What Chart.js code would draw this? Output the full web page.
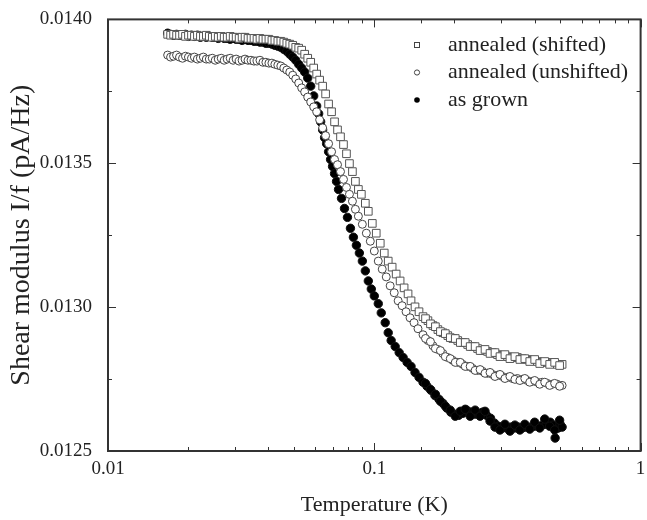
<!DOCTYPE html>
<html>
<head>
<meta charset="utf-8">
<script src="https://cdn.jsdelivr.net/npm/chart.js@4.4.0/dist/chart.umd.min.js"></script>
<style>
  html, body { margin: 0; padding: 0; background: #fff; }
  #wrap { width: 647px; height: 520px; overflow: hidden; }
</style>
</head>
<body>
<div id="wrap"><canvas id="chart" width="647" height="520"></canvas></div>
<script>
// series names, in legend order
const seriesNames = ['annealed (shifted)', 'annealed (unshifted)', 'as grown'];

// annealed (shifted) - open squares (tail readings appended at the end)
const tempShifted = [0.01675,0.01718,0.01763,0.01809,0.01856,0.01905,0.01954,0.02005,0.02058,0.02111,0.02166,0.02223,0.02281,0.02340,0.02401,0.02464,0.02528,0.02594,0.02662,0.02731,0.02803,0.02876,0.02951,0.03028,0.03107,0.03188,0.03271,0.03356,0.03444,0.03534,0.03626,0.03721,0.03818,0.03917,0.04020,0.04125,0.04232,0.04343,0.04456,0.04572,0.04692,0.04814,0.04940,0.05069,0.05201,0.05337,0.05476,0.05623,0.05770,0.05921,0.06075,0.06234,0.06397,0.06564,0.06735,0.06911,0.07091,0.07276,0.07466,0.07661,0.07861,0.08066,0.08277,0.08493,0.08714,0.08942,0.09254,0.09496,0.09830,0.1017,0.1053,0.1090,0.1128,0.1167,0.1208,0.1250,0.1294,0.1339,0.1374,0.1422,0.1472,0.1524,0.1590,0.1660,0.1733,0.1809,0.1888,0.1971,0.2058,0.2148,0.2242,0.2340,0.2443,0.2550,0.2662,0.2779,0.2901,0.3028,0.3162,0.3301,0.3446,0.3597,0.3753,0.3917,0.4092,0.4272,0.4459,0.4655,0.4859,0.5073,
  0.1557,0.1625,0.1696,0.1771,0.1848,0.1929,0.2014,0.2103,0.2195,0.2291,0.2391,0.2496,0.2605,0.2720,0.2839,0.2964,0.3094,0.3231,0.3373,0.3521,0.3675,0.3835,0.4002,0.4181,0.4365,0.4556,0.4756,0.4965];
const modShifted = [0.013948,0.013945,0.013948,0.013945,0.013945,0.013948,0.013941,0.013945,0.013945,0.013941,0.013945,0.013941,0.013941,0.013945,0.013941,0.013938,0.013941,0.013938,0.013941,0.013938,0.013938,0.013941,0.013938,0.013938,0.013934,0.013938,0.013938,0.013934,0.013934,0.013934,0.013931,0.013934,0.013931,0.013931,0.013931,0.013927,0.013927,0.013924,0.013924,0.013921,0.013917,0.013914,0.013910,0.013903,0.013900,0.013893,0.013879,0.013865,0.013851,0.013831,0.013810,0.013789,0.013768,0.013741,0.013706,0.013679,0.013644,0.013616,0.013592,0.013565,0.013533,0.013499,0.013471,0.013437,0.013409,0.013392,0.013361,0.013333,0.013291,0.013257,0.013222,0.013188,0.013160,0.013139,0.013115,0.013091,0.013067,0.013046,0.013022,0.013001,0.012984,0.012967,0.012953,0.012936,0.012922,0.012911,0.012901,0.012891,0.012884,0.012877,0.012870,0.012863,0.012856,0.012849,0.012846,0.012842,0.012835,0.012832,0.012828,0.012825,0.012825,0.012821,0.012818,0.012815,0.012811,0.012808,0.012808,0.012804,0.012801,0.012801,
  0.012960,0.012942,0.012932,0.012915,0.012908,0.012894,0.012891,0.012877,0.012877,0.012863,0.012863,0.012849,0.012853,0.012839,0.012842,0.012828,0.012835,0.012821,0.012828,0.012818,0.012821,0.012811,0.012818,0.012804,0.012811,0.012801,0.012808,0.012797];

// annealed (unshifted) - open circles (tail readings appended at the end)
const tempUnshifted = [0.01675,0.01718,0.01763,0.01809,0.01856,0.01905,0.01954,0.02005,0.02058,0.02111,0.02166,0.02223,0.02281,0.02340,0.02401,0.02464,0.02528,0.02594,0.02662,0.02731,0.02803,0.02876,0.02951,0.03028,0.03107,0.03188,0.03271,0.03356,0.03444,0.03534,0.03626,0.03721,0.03818,0.03917,0.04020,0.04125,0.04232,0.04343,0.04456,0.04572,0.04692,0.04814,0.04940,0.05069,0.05201,0.05337,0.05476,0.05623,0.05770,0.05921,0.06075,0.06234,0.06397,0.06564,0.06735,0.06911,0.07091,0.07276,0.07466,0.07661,0.07861,0.08066,0.08277,0.08493,0.08714,0.09019,0.09334,0.09660,0.1000,0.1035,0.1071,0.1109,0.1147,0.1188,0.1229,0.1272,0.1316,0.1362,0.1410,0.1459,0.1524,0.1590,0.1660,0.1733,0.1809,0.1888,0.1971,0.2058,0.2148,0.2242,0.2340,0.2443,0.2550,0.2662,0.2779,0.2901,0.3028,0.3162,0.3301,0.3446,0.3597,0.3753,0.3917,0.4092,0.4272,0.4459,0.4655,0.4859,0.5073,
  0.1557,0.1625,0.1696,0.1771,0.1848,0.1929,0.2014,0.2103,0.2195,0.2291,0.2391,0.2496,0.2605,0.2720,0.2839,0.2964,0.3094,0.3231,0.3373,0.3521,0.3675,0.3835,0.4002,0.4181,0.4365,0.4556,0.4756,0.4965];
const modUnshifted = [0.013876,0.013869,0.013872,0.013876,0.013869,0.013865,0.013872,0.013869,0.013865,0.013869,0.013862,0.013865,0.013869,0.013862,0.013862,0.013865,0.013858,0.013862,0.013865,0.013858,0.013862,0.013865,0.013858,0.013862,0.013855,0.013858,0.013862,0.013858,0.013858,0.013855,0.013855,0.013858,0.013851,0.013851,0.013848,0.013848,0.013844,0.013841,0.013838,0.013831,0.013824,0.013817,0.013806,0.013793,0.013779,0.013762,0.013748,0.013730,0.013713,0.013696,0.013679,0.013651,0.013623,0.013596,0.013568,0.013540,0.013513,0.013495,0.013471,0.013444,0.013416,0.013392,0.013368,0.013340,0.013316,0.013288,0.013257,0.013229,0.013195,0.013160,0.013132,0.013105,0.013074,0.013050,0.013022,0.013005,0.012984,0.012963,0.012946,0.012925,0.012904,0.012884,0.012866,0.012853,0.012839,0.012825,0.012815,0.012808,0.012801,0.012794,0.012787,0.012780,0.012777,0.012770,0.012766,0.012763,0.012759,0.012756,0.012752,0.012752,0.012749,0.012745,0.012742,0.012739,0.012739,0.012735,0.012732,0.012732,0.012728,
  0.012891,0.012880,0.012856,0.012849,0.012828,0.012821,0.012808,0.012808,0.012794,0.012794,0.012780,0.012783,0.012770,0.012773,0.012759,0.012766,0.012752,0.012759,0.012749,0.012745,0.012752,0.012739,0.012745,0.012732,0.012739,0.012728,0.012735,0.012725];

// as grown - filled circles (tail readings appended at the end)
const tempGrown = [0.01675,0.01718,0.01763,0.01809,0.01856,0.01905,0.01954,0.02005,0.02058,0.02111,0.02166,0.02223,0.02281,0.02340,0.02401,0.02464,0.02528,0.02594,0.02662,0.02731,0.02803,0.02876,0.02951,0.03028,0.03107,0.03188,0.03271,0.03356,0.03444,0.03534,0.03626,0.03721,0.03818,0.03917,0.04020,0.04125,0.04232,0.04343,0.04456,0.04572,0.04692,0.04814,0.04940,0.05069,0.05201,0.05337,0.05476,0.05623,0.05770,0.05921,0.06075,0.06181,0.06288,0.06397,0.06507,0.06620,0.06735,0.06852,0.06970,0.07091,0.07214,0.07339,0.07531,0.07727,0.07929,0.08136,0.08348,0.08566,0.08789,0.09019,0.09254,0.09496,0.09744,0.1000,0.1035,0.1062,0.1099,0.1128,0.1157,0.1198,0.1240,0.1283,0.1328,0.1374,0.1422,0.1472,0.1524,0.1577,0.1632,0.1689,0.1748,0.1809,0.1872,0.1938,0.2005,0.2075,0.2148,0.2223,0.2301,0.2381,0.2464,0.2550,0.2639,0.2732,0.2827,0.2926,0.3028,0.3136,0.3245,0.3358,0.3476,0.3597,0.3721,0.3851,0.3985,0.4127,0.4272,0.4421,0.4576,0.4695,0.4776,0.4901,0.4986,0.5073,
  0.1557,0.1625,0.1696,0.1771,0.1848,0.1929,0.2014,0.2103,0.2195,0.2291,0.2391,0.2496,0.2605,0.2720,0.2839,0.2964,0.3094,0.3231,0.3373,0.3521,0.3675,0.3835,0.4002,0.4181,0.4365,0.4556,0.4756,0.4965];
const modGrown = [0.013952,0.013948,0.013945,0.013948,0.013945,0.013945,0.013948,0.013941,0.013945,0.013941,0.013945,0.013938,0.013941,0.013938,0.013941,0.013938,0.013938,0.013934,0.013938,0.013934,0.013934,0.013931,0.013934,0.013931,0.013931,0.013927,0.013931,0.013927,0.013927,0.013924,0.013924,0.013921,0.013921,0.013917,0.013917,0.013914,0.013910,0.013907,0.013903,0.013896,0.013889,0.013879,0.013869,0.013858,0.013844,0.013831,0.013817,0.013796,0.013768,0.013734,0.013699,0.013672,0.013644,0.013616,0.013589,0.013568,0.013540,0.013513,0.013489,0.013464,0.013437,0.013409,0.013378,0.013343,0.013312,0.013274,0.013243,0.013215,0.013188,0.013160,0.013126,0.013091,0.013063,0.013039,0.013012,0.012980,0.012946,0.012911,0.012884,0.012863,0.012842,0.012825,0.012808,0.012794,0.012773,0.012756,0.012739,0.012725,0.012711,0.012693,0.012680,0.012666,0.012649,0.012635,0.012628,0.012624,0.012631,0.012642,0.012635,0.012628,0.012631,0.012635,0.012624,0.012614,0.012597,0.012586,0.012580,0.012580,0.012583,0.012580,0.012583,0.012580,0.012583,0.012583,0.012586,0.012586,0.012590,0.012593,0.012600,0.012590,0.012545,0.012580,0.012593,0.012583,
  0.012735,0.012714,0.012697,0.012673,0.012656,0.012642,0.012621,0.012638,0.012645,0.012621,0.012642,0.012621,0.012638,0.012604,0.012583,0.012573,0.012593,0.012569,0.012590,0.012573,0.012593,0.012576,0.012600,0.012580,0.012611,0.012586,0.012573,0.012607];

// axes
const xTickLabels = [0.01, 0.1, 1];
const yTickLabels = [0.0125, 0.0130, 0.0135, 0.0140];
const xMin = 0.01, xMax = 1;
const yMin = 0.0125, yMax = 0.0140, yStep = 0.00025;

const serif = '"Liberation Serif", "Times New Roman", serif';
const ink = '#222';

function pts(xs, ys) {
  return xs.map((x, i) => ({ x: x, y: ys[i] }));
}

function isLabelled(list, v) {
  return list.some(t => Math.abs(t - v) < 1e-9);
}

// inward ticks on all four sides + frame, x labels, legend
const frameTicks = {
  id: 'frameTicks',
  afterDatasetsDraw(chart) {
    const ctx = chart.ctx;
    const a = chart.chartArea;
    const xs = chart.scales.x, ys = chart.scales.y;
    ctx.save();
    ctx.strokeStyle = '#333';
    ctx.lineWidth = 1;
    ctx.beginPath();
    xs.ticks.forEach(t => {
      const px = Math.round(xs.getPixelForValue(t.value)) + 0.5;
      const len = isLabelled(xTickLabels, t.value) ? 8 : 4;
      ctx.moveTo(px, a.bottom); ctx.lineTo(px, a.bottom - len);
      ctx.moveTo(px, a.top); ctx.lineTo(px, a.top + len);
    });
    ys.ticks.forEach(t => {
      const py = Math.round(ys.getPixelForValue(t.value)) + 0.5;
      const len = isLabelled(yTickLabels, t.value) ? 8 : 4;
      ctx.moveTo(a.left, py); ctx.lineTo(a.left + len, py);
      ctx.moveTo(a.right, py); ctx.lineTo(a.right - len, py);
    });
    ctx.stroke();
    ctx.lineWidth = 2;
    ctx.strokeRect(a.left, a.top, a.right - a.left, a.bottom - a.top);

    // x tick labels (drawn here so the last one may run off the canvas edge)
    ctx.font = '19px ' + serif;
    ctx.fillStyle = ink;
    ctx.textAlign = 'center';
    ctx.textBaseline = 'top';
    xTickLabels.forEach(v => {
      ctx.fillText(String(v), xs.getPixelForValue(v), a.bottom + 9);
    });
    ctx.restore();
  },
  afterDraw(chart) {
    const ctx = chart.ctx;
    const mx = 417, tx = 448;
    const rows = [45, 72.5, 100];
    ctx.save();
    ctx.font = '22px ' + serif;
    ctx.fillStyle = ink;
    ctx.textBaseline = 'middle';
    rows.forEach((ry, i) => {
      ctx.fillText(seriesNames[i], tx, ry);
    });
    ctx.lineWidth = 1;
    ctx.strokeStyle = '#444';
    ctx.strokeRect(mx - 2.5, rows[0] - 2.5, 5, 5);
    ctx.beginPath();
    ctx.arc(mx, rows[1], 2.6, 0, Math.PI * 2);
    ctx.stroke();
    ctx.beginPath();
    ctx.arc(mx, rows[2], 2.8, 0, Math.PI * 2);
    ctx.fillStyle = '#000';
    ctx.fill();
    ctx.restore();
  }
};

new Chart(document.getElementById('chart'), {
  type: 'scatter',
  data: {
    datasets: [
      {
        label: seriesNames[0],
        data: pts(tempShifted, modShifted),
        pointStyle: 'rect',
        pointRadius: 5.4,
        backgroundColor: '#fff',
        borderColor: '#555',
        borderWidth: 1
      },
      {
        label: seriesNames[1],
        data: pts(tempUnshifted, modUnshifted),
        pointStyle: 'circle',
        pointRadius: 4,
        backgroundColor: '#fff',
        borderColor: '#444',
        borderWidth: 1
      },
      {
        label: seriesNames[2],
        data: pts(tempGrown, modGrown),
        pointStyle: 'circle',
        pointRadius: 4.2,
        backgroundColor: '#000',
        borderColor: '#111',
        borderWidth: 1
      }
    ]
  },
  options: {
    responsive: false,
    animation: false,
    devicePixelRatio: 1,
    layout: { padding: { top: 17, right: 4, left: 0, bottom: 0 } },
    plugins: {
      legend: { display: false },
      tooltip: { enabled: false }
    },
    scales: {
      x: {
        type: 'logarithmic',
        min: xMin,
        max: xMax,
        border: { display: false },
        grid: { display: false },
        ticks: {
          autoSkip: false,
          maxRotation: 0,
          callback: () => ''
        },
        title: {
          display: true,
          text: 'Temperature (K)',
          color: ink,
          font: { family: serif, size: 22 },
          padding: { top: 0, bottom: 2 }
        },
        afterFit: s => { s.height = 69; }
      },
      y: {
        min: yMin,
        max: yMax,
        border: { display: false },
        grid: { display: false },
        ticks: {
          stepSize: yStep,
          padding: 8,
          color: ink,
          font: { family: serif, size: 19 },
          callback: v => isLabelled(yTickLabels, v) ? v.toFixed(4) : ''
        },
        title: {
          display: true,
          text: 'Shear modulus I/f (pA/Hz)',
          color: ink,
          font: { family: serif, size: 28 },
          padding: { top: 5, bottom: 0 }
        },
        afterFit: s => { s.width = 108; }
      }
    }
  },
  plugins: [frameTicks]
});
</script>
</body>
</html>
